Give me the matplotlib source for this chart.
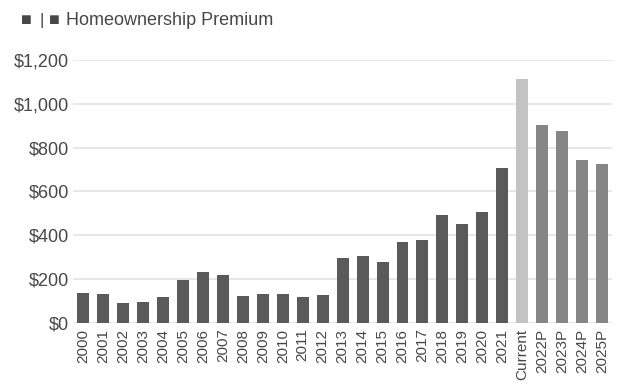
import matplotlib.pyplot as plt

plt.rcParams['font.family'] = ['Liberation Sans', 'DejaVu Sans']

# annual homeownership premium, plus current estimate and projections
years = [str(y) for y in range(2000, 2022)] + ['Current', '2022P', '2023P', '2024P', '2025P']
premium = [138, 132, 90, 94, 117, 196, 231, 220, 125, 131, 131, 120, 128,
           298, 307, 277, 370, 377, 493, 453, 508, 709,
           1113, 904, 878, 744, 727]
kind = ['hist'] * 22 + ['current'] + ['proj'] * 4

palette = {'hist': '#5a5a5a', 'current': '#c3c3c3', 'proj': '#868686'}
colors = [palette[k] for k in kind]

fig = plt.figure(figsize=(6.31, 3.88), dpi=100)
ax = fig.add_axes([0.116, 0.1675, 0.854, 0.678])

x = range(len(years))
ax.bar(x, premium, width=0.6, color=colors, zorder=3)

ax.set_ylim(0, 1200)
ax.set_xlim(-0.5, len(years) - 0.5)
ax.set_yticks(range(0, 1201, 200))
ax.set_yticklabels(['$0', '$200', '$400', '$600', '$800', '$1,000', '$1,200'])
ax.set_xticks(list(x))
ax.set_xticklabels(years, rotation=90)

ax.grid(axis='y', color='#e3e3e3', linewidth=1.2, zorder=0)
for s in ax.spines.values():
    s.set_visible(False)
ax.tick_params(axis='both', length=0, colors='#474747')
ax.tick_params(axis='y', labelsize=13, pad=3)
ax.tick_params(axis='x', labelsize=11, pad=4)

# legend line drawn as text: two small swatches then the series name
fig.text(0.033, 0.946, '\u25a0', fontsize=13, color='#474747', va='center')
fig.text(0.063, 0.948, '|', fontsize=12, color='#474747', va='center')
fig.text(0.077, 0.946, '\u25a0', fontsize=13, color='#474747', va='center')
fig.text(0.105, 0.948, 'Homeownership Premium', fontsize=13,
         color='#474747', va='center', ha='left')

fig.savefig('out.png', dpi=100)
